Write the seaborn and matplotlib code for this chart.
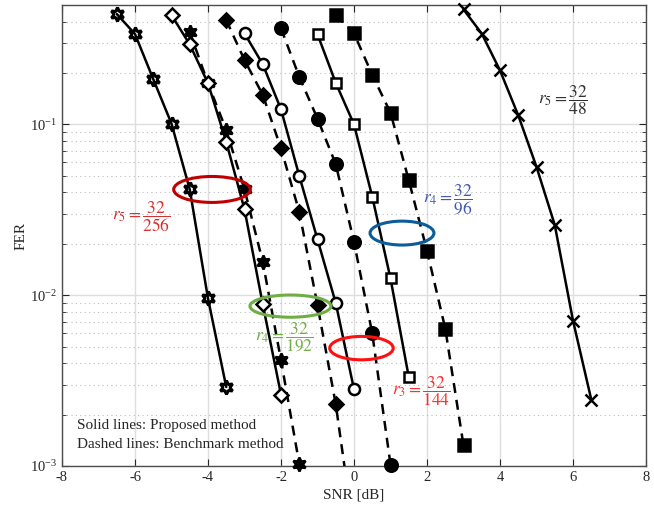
import numpy as np
import pandas as pd
import seaborn as sns
import matplotlib.pyplot as plt
from matplotlib.patches import Ellipse
from matplotlib.ticker import LogLocator, NullFormatter, MultipleLocator

# r5 = 32/256 (hexagram)
snr_star_prop = [-6.5, -6, -5.5, -5, -4.5, -4, -3.5]
fer_star_prop = [0.443, 0.338, 0.184, 0.101, 0.0416, 0.00957, 0.0029]
snr_star_bench = [-4.5, -4, -3.5, -3, -2.5, -2, -1.5]
fer_star_bench = [0.348, 0.174, 0.0926, 0.0416, 0.0157, 0.00416, 0.00103]

# r4 = 32/192 (diamond)
snr_diam_prop = [-5, -4.5, -4, -3.5, -3, -2.5, -2]
fer_diam_prop = [0.436, 0.294, 0.174, 0.079, 0.0318, 0.00885, 0.00262]
snr_diam_bench = [-3.5, -3, -2.5, -2, -1.5, -1, -0.5, 0]
fer_diam_bench = [0.408, 0.238, 0.149, 0.0723, 0.0308, 0.00873, 0.0023, 0.0004]

# r3 = 32/144 (circle)
snr_circ_prop = [-3, -2.5, -2, -1.5, -1, -0.5, 0]
fer_circ_prop = [0.341, 0.225, 0.1225, 0.050, 0.0212, 0.0090, 0.00281]
snr_circ_bench = [-2, -1.5, -1, -0.5, 0, 0.5, 1]
fer_circ_bench = [0.365, 0.190, 0.108, 0.0585, 0.0205, 0.00597, 0.00102]

# r4 = 32/96 (square)
snr_sq_prop = [-1, -0.5, 0, 0.5, 1, 1.5]
fer_sq_prop = [0.337, 0.175, 0.1, 0.0377, 0.01253, 0.00332]
snr_sq_bench = [-0.5, 0, 0.5, 1, 1.5, 2, 2.5, 3]
fer_sq_bench = [0.436, 0.341, 0.195, 0.117, 0.0472, 0.0182, 0.00638, 0.00132]

# r5 = 32/48 (cross), proposed only
snr_x_prop = [3, 3.5, 4, 4.5, 5, 5.5, 6, 6.5]
fer_x_prop = [0.471, 0.34, 0.207, 0.113, 0.0564, 0.0258, 0.0071, 0.00245]

# annotation texts: label, snr, fer, colour
ann_labels = [r"$r_5=\dfrac{32}{256}$", r"$r_4=\dfrac{32}{192}$", r"$r_4=\dfrac{32}{96}$",
              r"$r_3=\dfrac{32}{144}$", r"$r_5=\dfrac{32}{48}$"]
ann_snr = [-5.84, -1.92, 2.58, 1.84, 5.73]
ann_fer = [0.0286, 0.00569, 0.0359, 0.00274, 0.139]
ann_colors = ["#d62f2f", "#70ad47", "#4157b0", "#ff2a2a", "#303030"]

# ellipses: centre snr, centre fer, width [dB], height [decades], colour
ell_snr = [-3.89, -1.74, 1.315, 0.205]
ell_fer = [0.0416, 0.00863, 0.0231, 0.0049]
ell_w = [2.1, 2.22, 1.75, 1.74]
ell_h = [0.152, 0.13, 0.14, 0.137]
ell_colors = ["#c00000", "#70ad47", "#0b5c9a", "#ff1010"]

sns.set_style("ticks")
plt.rcParams["font.family"] = ["Liberation Serif", "DejaVu Serif"]
plt.rcParams["mathtext.fontset"] = "stix"
plt.rcParams["axes.unicode_minus"] = False
plt.rcParams["xtick.direction"] = "in"
plt.rcParams["ytick.direction"] = "in"

fig = plt.figure(figsize=(6.54, 5.05), dpi=100)
ax = fig.add_axes([62 / 654, 1 - 466 / 505, 584 / 654, 461 / 505])

series = [
    (snr_star_prop, fer_star_prop, "-", (6, 1, 0), "none", 10, 2.2, False),
    (snr_star_bench, fer_star_bench, "--", (6, 1, 0), "black", 10, 1.8, False),
    (snr_diam_prop, fer_diam_prop, "-", "D", "white", 7, 1.8, False),
    (snr_diam_bench, fer_diam_bench, "--", "D", "black", 7, 1.8, True),
    (snr_circ_prop, fer_circ_prop, "-", "o", "white", 8, 1.8, False),
    (snr_circ_bench, fer_circ_bench, "--", "o", "black", 9, 1.8, False),
    (snr_sq_prop, fer_sq_prop, "-", "s", "white", 6.5, 1.8, False),
    (snr_sq_bench, fer_sq_bench, "--", "s", "black", 8, 1.8, False),
    (snr_x_prop, fer_x_prop, "-", "x", "none", 8, 1.8, False),
]

for snr, fer, ls, mk, face, ms, mew, clip in series:
    df = pd.DataFrame({"snr": snr, "fer": fer})
    n_before = len(ax.lines)
    sns.lineplot(data=df, x="snr", y="fer", ax=ax, color="black", linewidth=1.8,
                 marker=mk, markersize=ms, markerfacecolor=face,
                 markeredgecolor="black", markeredgewidth=mew)
    line = ax.lines[n_before]
    if ls == "--":
        line.set_dashes((4, 2.8))
    line.set_clip_on(clip)
    line.set_zorder(3)

ax.set_yscale("log")
ax.set_xlim(-8, 8)
ax.set_ylim(1e-3, 0.5)
ax.xaxis.set_major_locator(MultipleLocator(2))
ax.yaxis.set_major_locator(LogLocator(base=10, numticks=10))
ax.yaxis.set_minor_locator(LogLocator(base=10, subs=np.arange(2, 10), numticks=20))
ax.yaxis.set_minor_formatter(NullFormatter())

ax.grid(True, which="major", color="#dedede", linewidth=1.0, linestyle="-")
ax.grid(True, which="minor", axis="y", color="#bdbdbd", linewidth=0.8, linestyle=(0, (1, 3)))
ax.set_axisbelow(True)

ax.tick_params(which="both", top=True, right=True, labelsize=10.5, colors="#262626")
ax.tick_params(which="major", length=5, width=0.8)
ax.tick_params(which="minor", length=3, width=0.6)
for sp in ax.spines.values():
    sp.set_color("#4d4d4d")
    sp.set_linewidth(1.0)

ax.set_xlabel("SNR [dB]", fontsize=11, labelpad=3)
ax.set_ylabel("FER", fontsize=11, labelpad=2)

for lab, s, f, c in zip(ann_labels, ann_snr, ann_fer, ann_colors):
    ax.text(s, f, lab, color=c, fontsize=12.5, ha="center", va="center", zorder=5)

# ellipses in axes coordinates so they stay round on the log axis
to_axes = ax.transAxes.inverted()
y_dec = np.log10(0.5) - np.log10(1e-3)
for s, f, w, h, c in zip(ell_snr, ell_fer, ell_w, ell_h, ell_colors):
    cx, cy = to_axes.transform(ax.transData.transform((s, f)))
    ax.add_patch(Ellipse((cx, cy), w / 16, h / y_dec, transform=ax.transAxes,
                         fill=False, edgecolor=c, linewidth=2.2, zorder=6))

ax.text(0.026, 0.088, "Solid lines: Proposed method", transform=ax.transAxes,
        fontsize=11, va="center", ha="left", zorder=6)
ax.text(0.026, 0.047, "Dashed lines: Benchmark method", transform=ax.transAxes,
        fontsize=11, va="center", ha="left", zorder=6)

fig.savefig("out.png", dpi=100)
